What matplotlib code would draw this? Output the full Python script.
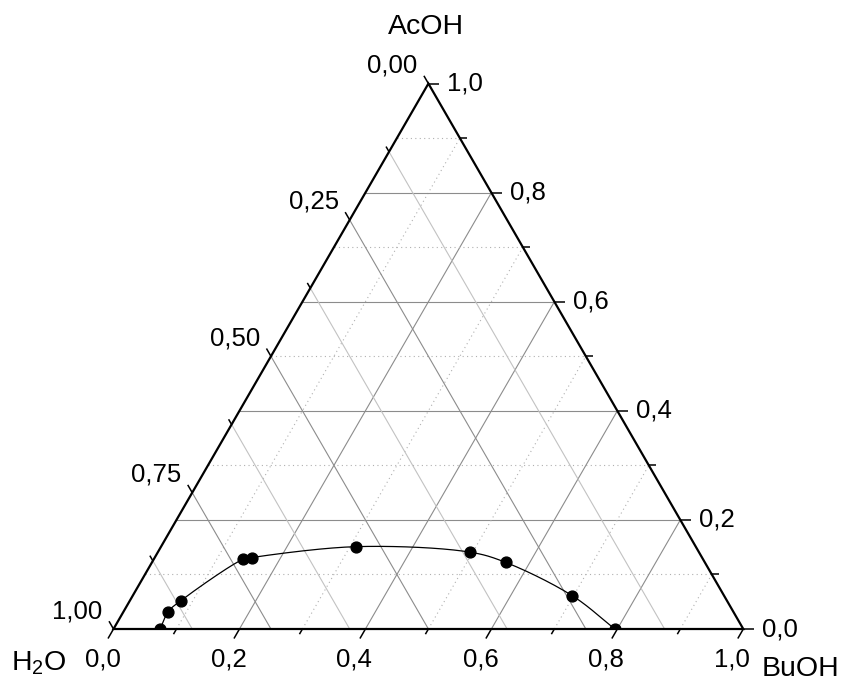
import numpy as np
import matplotlib
matplotlib.use('Agg')
import matplotlib.pyplot as plt
from matplotlib.patches import Polygon

plt.rcParams['font.family'] = ['Liberation Sans', 'DejaVu Sans']
plt.rcParams['mathtext.default'] = 'regular'

# binodal curve (mass fractions)
acoh = [0.0, 0.032, 0.052, 0.128, 0.131, 0.151, 0.141, 0.122, 0.061, 0.0]
buoh = [0.074, 0.071, 0.081, 0.142, 0.154, 0.310, 0.495, 0.562, 0.698, 0.796]

buoh_ticks = [0.0, 0.2, 0.4, 0.6, 0.8, 1.0]
acoh_ticks = [0.0, 0.2, 0.4, 0.6, 0.8, 1.0]
h2o_ticks = [0.0, 0.25, 0.50, 0.75, 1.00]

S3 = np.sqrt(3) / 2
PX = 629.8          # pixels per unit side length
X0, Y0 = 113.5, 629.0


def tern(b, a):
    """(BuOH, AcOH) -> cartesian, H2O at origin, BuOH at (1, 0)."""
    b = np.asarray(b, float)
    a = np.asarray(a, float)
    return b + a / 2, a * S3


def px(dx):
    return dx / PX


def catmull_rom(pts, n=30):
    # centripetal Catmull-Rom through the points
    pts = np.asarray(pts, float)
    P = np.vstack([2 * pts[0] - pts[1], pts, 2 * pts[-1] - pts[-2]])
    out = []
    for i in range(1, len(P) - 2):
        p0, p1, p2, p3 = P[i - 1], P[i], P[i + 1], P[i + 2]
        t0 = 0.0
        t1 = t0 + np.linalg.norm(p1 - p0) ** 0.5
        t2 = t1 + np.linalg.norm(p2 - p1) ** 0.5
        t3 = t2 + np.linalg.norm(p3 - p2) ** 0.5
        t = np.linspace(t1, t2, n)[:, None]
        A1 = (t1 - t) / (t1 - t0) * p0 + (t - t0) / (t1 - t0) * p1
        A2 = (t2 - t) / (t2 - t1) * p1 + (t - t1) / (t2 - t1) * p2
        A3 = (t3 - t) / (t3 - t2) * p2 + (t - t2) / (t3 - t2) * p3
        B1 = (t2 - t) / (t2 - t0) * A1 + (t - t0) / (t2 - t0) * A2
        B2 = (t3 - t) / (t3 - t1) * A2 + (t - t1) / (t3 - t1) * A3
        out.append((t2 - t) / (t2 - t1) * B1 + (t - t1) / (t2 - t1) * B2)
    return np.vstack(out)


fig = plt.figure(figsize=(8.46, 6.84), dpi=100)
ax = fig.add_axes([0, 0, 1, 1])
ax.set_xlim(-X0 / PX, (846 - X0) / PX)
ax.set_ylim(-(684 - Y0) / PX, Y0 / PX)
ax.axis('off')

major_grid = dict(color='#8c8c8c', lw=0.8, ls='-', zorder=1)
light_grid = dict(color='#c2c2c2', lw=0.8, ls='-', zorder=1)
dot_grid = dict(color='#b0b0b0', lw=0.8, ls=(0, (1, 3)), zorder=1)

# AcOH and BuOH grid every 0.1 (dotted at odd tenths)
for k in range(1, 10):
    v = k / 10
    st = major_grid if k % 2 == 0 else dot_grid
    x, y = tern([0, 1 - v], [v, v])
    ax.plot(x, y, **st)
    x, y = tern([v, v], [0, 1 - v])
    ax.plot(x, y, **st)

# H2O grid every 0.125
for k in range(1, 8):
    h = k / 8
    st = major_grid if k % 2 == 0 else light_grid
    x, y = tern([0, 1 - h], [1 - h, 0])
    ax.plot(x, y, **st)

# binodal curve and points
cx, cy = tern(buoh, acoh)
curve = catmull_rom(np.column_stack([cx, cy]))
ax.plot(curve[:, 0], curve[:, 1], color='black', lw=0.9, zorder=3)

tri_x, tri_y = tern([0, 1, 0], [0, 0, 1])
clip = Polygon(np.column_stack([tri_x, tri_y]), closed=True,
               transform=ax.transData, fill=False, lw=0)
ax.add_patch(clip)
pts, = ax.plot(cx, cy, 'o', color='black', ms=7.8, zorder=4)
pts.set_clip_path(clip)

# triangle frame
ax.add_patch(Polygon(np.column_stack([tri_x, tri_y]), closed=True, fill=False,
                     ec='black', lw=1.6, joinstyle='miter', zorder=5))

tick_kw = dict(color='black', lw=1.1, zorder=5, solid_capstyle='butt', clip_on=False)
fs = 18.5

# bottom axis: BuOH, ticks slanted down-left
for k in range(11):
    b = k / 10
    L = 11 if k % 2 == 0 else 6
    x, y = tern(b, 0)
    ax.plot([x, x - 0.5 * px(L)], [y, y - S3 * px(L)], **tick_kw)
for b in buoh_ticks:
    x, y = tern(b, 0)
    ax.text(x - px(11), y - px(31), f'{b:.1f}'.replace('.', ','),
            ha='center', va='center', fontsize=fs)

# right axis: AcOH, ticks horizontal to the right
for k in range(11):
    a = k / 10
    L = 11 if k % 2 == 0 else 7
    x, y = tern(1 - a, a)
    ax.plot([x, x + px(L)], [y, y], **tick_kw)
for a in acoh_ticks:
    x, y = tern(1 - a, a)
    ax.text(x + px(19), y, f'{a:.1f}'.replace('.', ','),
            ha='left', va='center', fontsize=fs)

# left axis: H2O, zero at the top, ticks up-left
for k in range(9):
    h = k / 8
    L = 9 if k % 2 == 0 else 6
    x, y = tern(0, 1 - h)
    ax.plot([x, x - 0.5 * px(L)], [y, y + S3 * px(L)], **tick_kw)
for h in h2o_ticks:
    x, y = tern(0, 1 - h)
    ax.text(x - px(11), y + px(18), f'{h:.2f}'.replace('.', ','),
            ha='right', va='center', fontsize=fs)


# component names
def at(px_x, px_y):
    return (px_x - X0) / PX, (Y0 - px_y) / PX


ax.text(*at(426, 27), 'AcOH', ha='center', va='center', fontsize=20.5)
ax.text(*at(801, 669), 'BuOH', ha='center', va='center', fontsize=20.5)
ax.text(*at(39, 663), 'H$_2$O', ha='center', va='center', fontsize=20.5)

fig.savefig('out.png', dpi=100)
